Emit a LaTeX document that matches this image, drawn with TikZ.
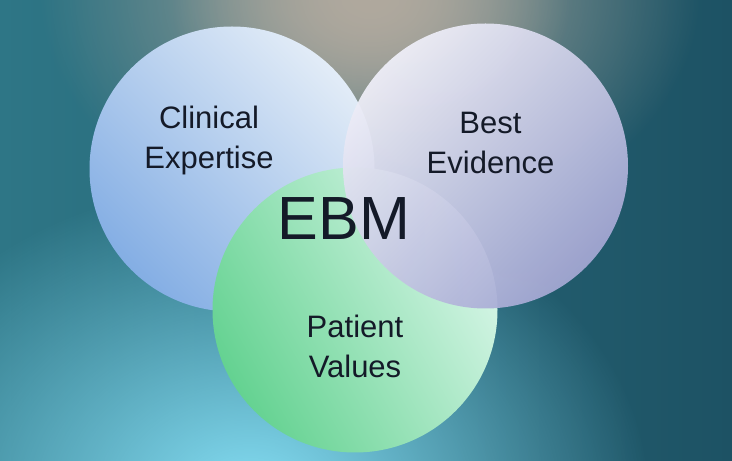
\documentclass[tikz,border=0pt]{standalone}
\usepackage{fontspec}
\setmainfont{Liberation Sans}
\usetikzlibrary{fadings}
\definecolor{bgL}{RGB}{46,118,134}
\definecolor{bgR}{RGB}{29,82,100}
\definecolor{glowC}{RGB}{135,224,246}
\definecolor{glowB}{RGB}{176,169,158}
\definecolor{cLlight}{RGB}{226,236,247}
\definecolor{cLdark}{RGB}{132,174,228}
\definecolor{cRlight}{RGB}{238,238,247}
\definecolor{cRdark}{RGB}{162,166,210}
\definecolor{cPlight}{RGB}{216,246,232}
\definecolor{cPdark}{RGB}{100,210,145}
\definecolor{ink}{RGB}{20,26,40}
\tikzfading[name=glow, inner color=transparent!0, outer color=transparent!100]
\begin{document}
\begin{tikzpicture}[x=1pt,y=1pt,
  venn/.style={circle, draw=none, inner sep=0pt, minimum size=285pt},
  lbl/.style={font=\fontsize{31}{40}\selectfont, text=ink, align=center, inner sep=0pt},
]
\useasboundingbox (0,0) rectangle (732,461);
\shade[left color=bgL, right color=bgR] (0,0) rectangle (732,461);
\fill[glowC, path fading=glow] (250,-40) ellipse (400 and 320);
\fill[glowB, path fading=glow] (370,470) ellipse (330 and 250);
\fill[glowB, path fading=glow] (370,461) ellipse (200 and 150);
\node[venn, top color=cLlight, bottom color=cLdark, shading angle=-45] (ce) at (232,292) {};
\node[venn, top color=cPlight, bottom color=cPdark, shading angle=-60] (pv) at (355,151) {};
\node[venn, top color=cRlight, bottom color=cRdark, shading angle=45, opacity=0.95] (be) at (485.5,295) {};
\node[lbl] (tce) at (209,321) {Clinical\\Expertise};
\node[lbl] (tbe) at (490.5,317.6) {Best\\Evidence};
\node[lbl] (tpv) at (355,114.6) {Patient\\Values};
\node[font=\fontsize{61}{70}\selectfont, text=ink, anchor=base, inner sep=0pt] (ebm) at (344,221) {EBM};
\end{tikzpicture}
\end{document}
